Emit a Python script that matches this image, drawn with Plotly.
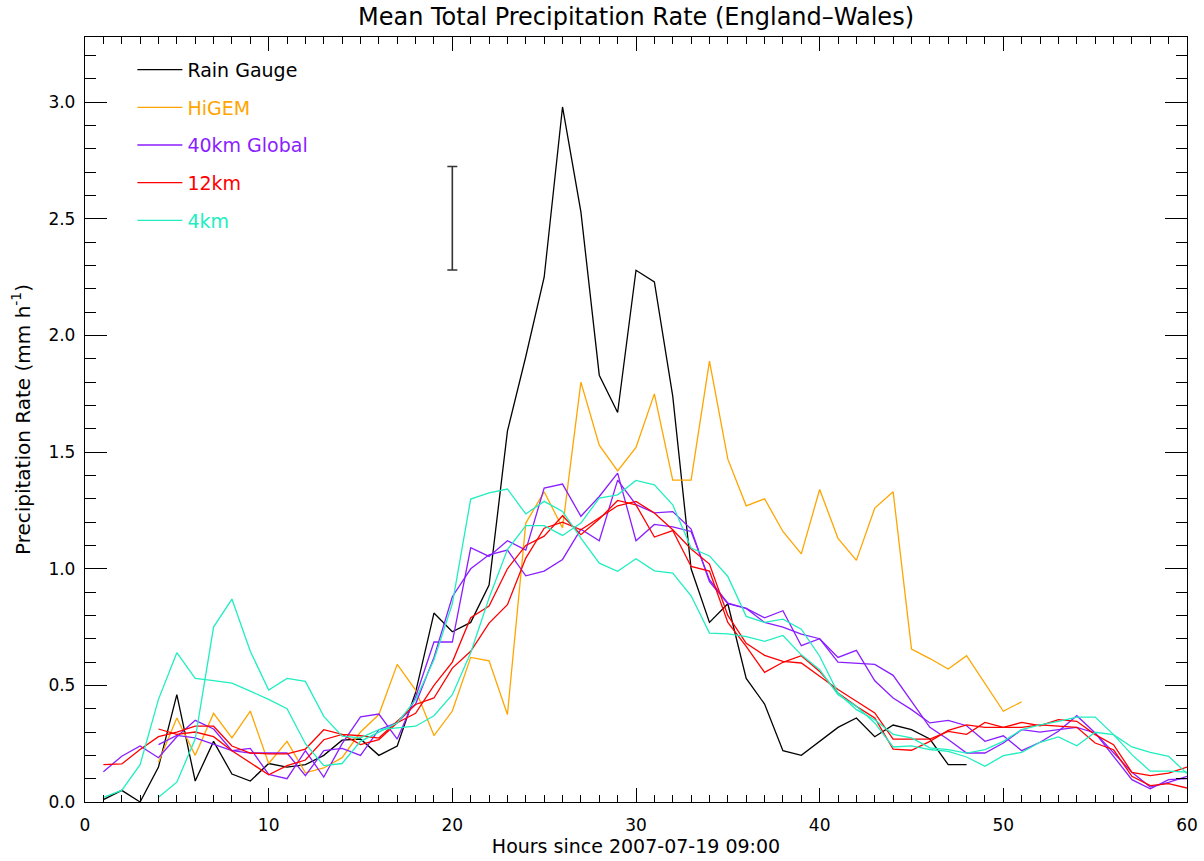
import plotly.graph_objects as go

# ---------------- data (mm/h, hourly) ----------------
gauge_start = 1
gauge = [0.01, 0.05, 0.0, 0.15, 0.46, 0.09, 0.26, 0.12, 0.09, 0.165,
         0.15, 0.16, 0.20, 0.265, 0.27, 0.20, 0.24, 0.47, 0.81, 0.73,
         0.77, 0.93, 1.59, 1.91, 2.25, 2.98, 2.53, 1.83, 1.67, 2.28,
         2.23, 1.74, 1.0, 0.77, 0.85, 0.53, 0.42, 0.22, 0.20, 0.26,
         0.32, 0.36, 0.28, 0.33, 0.31, 0.27, 0.16, 0.16]

higem_start = 4
higem = [0.17, 0.36, 0.20, 0.38, 0.275, 0.39, 0.165, 0.26, 0.125, 0.146,
         0.19, 0.30, 0.375, 0.59, 0.48, 0.285, 0.39, 0.62, 0.605, 0.375,
         1.196, 1.33, 1.175, 1.80, 1.53, 1.42, 1.52, 1.75, 1.38, 1.38,
         1.89, 1.47, 1.27, 1.30, 1.16, 1.064, 1.34, 1.13, 1.036, 1.26,
         1.33, 0.656, 0.615, 0.57, 0.627, 0.51, 0.389, 0.43]

global_a_start = 1
global_a = [0.13, 0.196, 0.24, 0.19, 0.28, 0.35, 0.313, 0.22, 0.23, 0.118,
            0.10, 0.22, 0.107, 0.25, 0.365, 0.377, 0.27, 0.45, 0.686, 0.686,
            1.09, 1.053, 1.12, 1.08, 1.346, 1.363, 1.225, 1.31, 1.41, 1.12,
            1.19, 1.18, 1.16, 0.953, 0.853, 0.83, 0.77, 0.75, 0.72, 0.70,
            0.60, 0.596, 0.59, 0.543, 0.43, 0.32, 0.268, 0.21, 0.21, 0.253,
            0.31, 0.30, 0.31, 0.32, 0.296, 0.21, 0.127, 0.064, 0.084, 0.11]

global_b_start = 4
global_b = [0.246, 0.286, 0.275, 0.246, 0.22, 0.21, 0.21, 0.21, 0.113, 0.22,
            0.23, 0.20, 0.31, 0.34, 0.42, 0.62, 0.88, 1.0, 1.06, 1.08,
            0.97, 0.99, 1.04, 1.17, 1.12, 1.38, 1.275, 1.24, 1.245, 1.17,
            0.945, 0.85, 0.83, 0.79, 0.82, 0.67, 0.70, 0.62, 0.65, 0.52,
            0.446, 0.396, 0.339, 0.35, 0.327, 0.26, 0.284, 0.22, 0.256, 0.303,
            0.37, 0.296, 0.196, 0.096, 0.057, 0.096, 0.10]

km12_a_start = 1
km12_a = [0.16, 0.163, 0.225, 0.28, 0.30, 0.325, 0.325, 0.24, 0.21, 0.206,
          0.206, 0.227, 0.31, 0.29, 0.284, 0.274, 0.346, 0.418, 0.446, 0.574,
          0.646, 0.767, 0.846, 1.046, 1.174, 1.20, 1.167, 1.217, 1.27, 1.289,
          1.239, 1.167, 1.085, 1.02, 0.80, 0.68, 0.629, 0.603, 0.596, 0.539,
          0.482, 0.432, 0.382, 0.27, 0.27, 0.27, 0.303, 0.29, 0.341, 0.32,
          0.341, 0.327, 0.353, 0.346, 0.289, 0.246, 0.127, 0.113, 0.124, 0.15]

km12_b_start = 4
km12_b = [0.313, 0.29, 0.30, 0.28, 0.22, 0.167, 0.117, 0.156, 0.18, 0.267,
          0.29, 0.246, 0.267, 0.34, 0.38, 0.50, 0.60, 0.79, 0.84, 1.0,
          1.10, 1.14, 1.227, 1.146, 1.213, 1.293, 1.274, 1.136, 1.164, 1.01,
          0.99, 0.77, 0.667, 0.556, 0.599, 0.627, 0.56, 0.467, 0.41, 0.36,
          0.227, 0.222, 0.26, 0.307, 0.331, 0.32, 0.32, 0.32, 0.331, 0.327,
          0.32, 0.253, 0.224, 0.11, 0.07, 0.079, 0.06]

km4_a_start = 1
km4_a = [0.02, 0.05, 0.16, 0.44, 0.64, 0.53, 0.52, 0.51, 0.475, 0.44,
         0.40, 0.25, 0.156, 0.165, 0.26, 0.30, 0.339, 0.439, 0.61, 0.85,
         1.299, 1.325, 1.342, 1.235, 1.289, 1.246, 1.131, 1.024, 0.989, 1.043,
         0.991, 0.981, 0.884, 0.724, 0.721, 0.709, 0.689, 0.714, 0.631, 0.567,
         0.46, 0.41, 0.339, 0.236, 0.241, 0.225, 0.217, 0.193, 0.153, 0.199,
         0.213, 0.256, 0.279, 0.241, 0.299, 0.289, 0.236, 0.213, 0.196, 0.122]

km4_b_start = 4
km4_b = [0.02, 0.085, 0.27, 0.75, 0.87, 0.646, 0.48, 0.53, 0.517, 0.367,
         0.282, 0.275, 0.31, 0.317, 0.325, 0.37, 0.46, 0.64, 0.875, 1.082,
         1.185, 1.185, 1.143, 1.196, 1.303, 1.317, 1.379, 1.36, 1.274, 1.089,
         1.055, 0.967, 0.796, 0.77, 0.784, 0.741, 0.625, 0.467, 0.396, 0.353,
         0.29, 0.275, 0.232, 0.225, 0.21, 0.225, 0.26, 0.31, 0.331, 0.346,
         0.364, 0.364, 0.289, 0.203, 0.132, 0.132, 0.128]

# representative uncertainty bar
errbar_x = [20]
errbar_y = [2.503]
errbar_half = [0.222]

# ---------------- series definitions ----------------
C_BLACK = "#000000"
C_ORANGE = "#FFA500"
C_PURPLE = "#8A1EFF"
C_RED = "#FF0000"
C_CYAN = "#20EEC0"

series = [
    ("Rain Gauge", "gauge", C_BLACK, gauge_start, gauge, True),
    ("HiGEM", "higem", C_ORANGE, higem_start, higem, True),
    ("40km Global", "glob", C_PURPLE, global_a_start, global_a, True),
    ("40km Global", "glob", C_PURPLE, global_b_start, global_b, False),
    ("12km", "k12", C_RED, km12_a_start, km12_a, True),
    ("12km", "k12", C_RED, km12_b_start, km12_b, False),
    ("4km", "k4", C_CYAN, km4_a_start, km4_a, True),
    ("4km", "k4", C_CYAN, km4_b_start, km4_b, False),
]

FONT = "DejaVu Sans"

fig = go.Figure()
for name, grp, col, start, vals, show in series:
    xs = [start + i for i in range(len(vals))]
    fig.add_trace(go.Scatter(
        x=xs, y=vals, mode="lines",
        line=dict(color=col, width=1.3),
        name=f'<span style="color:{col}">{name}</span>',
        legendgroup=grp, showlegend=show,
    ))

fig.add_trace(go.Scatter(
    x=errbar_x, y=errbar_y, mode="markers",
    marker=dict(size=1, color="#333333", opacity=0),
    error_y=dict(type="data", array=errbar_half, visible=True,
                 color="#333333", thickness=1.6, width=5),
    showlegend=False, hoverinfo="skip",
))

fig.update_layout(
    width=1204, height=861,
    margin=dict(l=85, r=17, t=37, b=59, autoexpand=False),
    paper_bgcolor="white", plot_bgcolor="white",
    font=dict(family=FONT, color="black", size=17),
    title=dict(text="Mean Total Precipitation Rate (England\u2013Wales)",
               x=0.5, xref="paper", xanchor="center",
               y=1 - 17 / 861, yref="container", yanchor="middle",
               font=dict(family=FONT, size=24, color="black")),
    legend=dict(x=0.043, y=0.982, xanchor="left", yanchor="top",
                bgcolor="rgba(0,0,0,0)", borderwidth=0,
                font=dict(family=FONT, size=19),
                tracegroupgap=10, itemwidth=45, traceorder="grouped"),
    showlegend=True,
)

fig.update_xaxes(
    range=[0, 60], dtick=10, tick0=0, automargin=False,
    showline=True, linecolor="black", linewidth=1.3, mirror="ticks",
    ticks="inside", ticklen=14, tickwidth=1.2, tickcolor="black",
    minor=dict(dtick=1, ticks="inside", ticklen=7, tickwidth=1.1, tickcolor="black", showgrid=False),
    showgrid=False, zeroline=False,
    tickfont=dict(family=FONT, size=17),
    ticklabelstandoff=7,
    title=dict(text="Hours since 2007-07-19 09:00", standoff=6,
               font=dict(family=FONT, size=19)),
)
fig.update_yaxes(
    range=[0, 3.28], dtick=0.5, tick0=0, tickformat=".1f", automargin=False,
    showline=True, linecolor="black", linewidth=1.3, mirror="ticks",
    ticks="inside", ticklen=22, tickwidth=1.2, tickcolor="black",
    minor=dict(dtick=0.1, ticks="inside", ticklen=11, tickwidth=1.1, tickcolor="black", showgrid=False),
    showgrid=False, zeroline=False,
    tickfont=dict(family=FONT, size=17),
    ticklabelstandoff=5,
    title=dict(text="Precipitation Rate (mm h<sup>-1</sup>)", standoff=12,
               font=dict(family=FONT, size=20)),
)

fig.write_html("out.html")
